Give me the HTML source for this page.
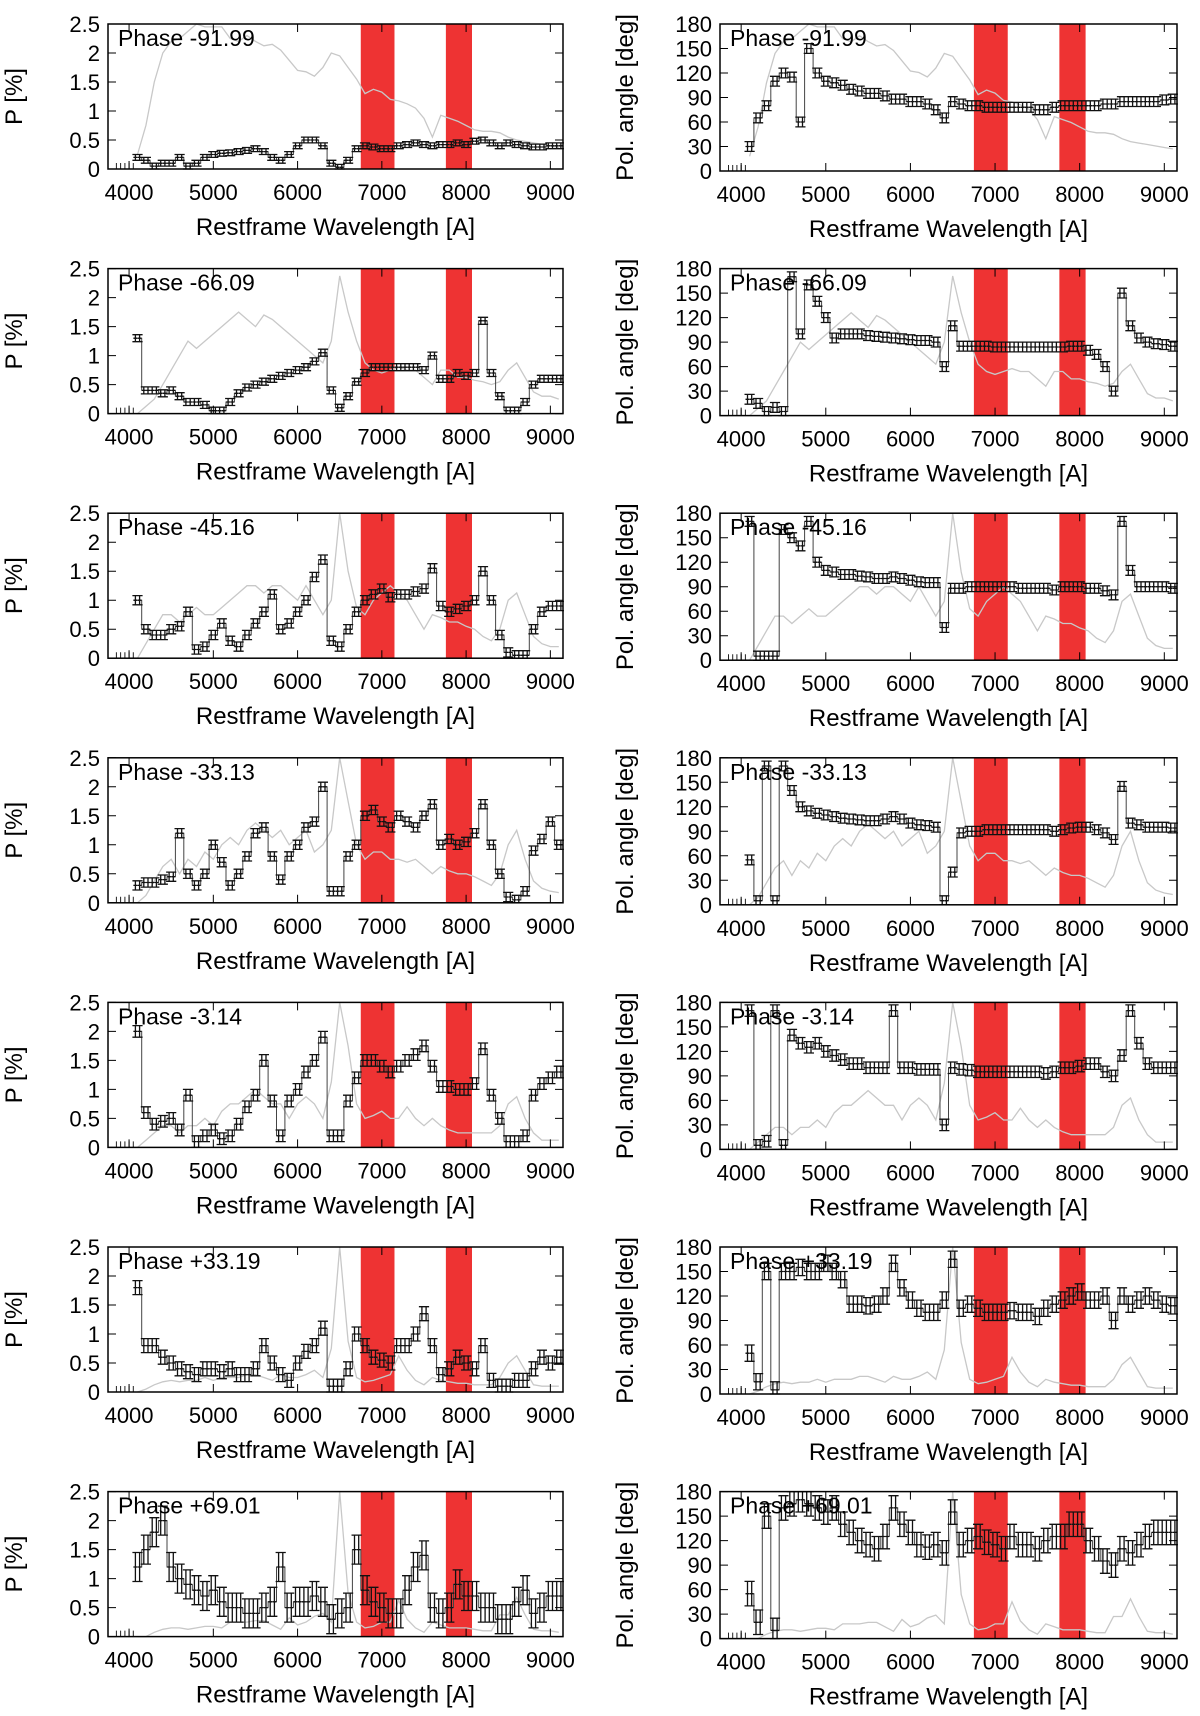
<!DOCTYPE html>
<html><head><meta charset="utf-8"><style>
html,body{margin:0;padding:0;background:#fff}
svg{display:block;font-family:"Liberation Sans",sans-serif}
</style></head><body>
<svg id="fig" width="1200" height="1716" viewBox="0 0 1200 1716" xmlns="http://www.w3.org/2000/svg"></svg>
<script>
const phases=["Phase -91.99","Phase -66.09","Phase -45.16","Phase -33.13","Phase -3.14","Phase +33.19","Phase +69.01"];
const wl0=4100, wlStep=100;
const pVals=[
[0.2,0.15,0.05,0.1,0.1,0.2,0.05,0.1,0.2,0.25,0.27,0.28,0.3,0.32,0.35,0.3,0.2,0.15,0.25,0.4,0.5,0.5,0.4,0.1,0.03,0.15,0.35,0.4,0.38,0.35,0.35,0.4,0.42,0.45,0.42,0.4,0.42,0.42,0.45,0.42,0.48,0.5,0.45,0.4,0.45,0.42,0.4,0.38,0.38,0.4,0.4],
[1.3,0.4,0.4,0.35,0.4,0.3,0.2,0.2,0.15,0.05,0.05,0.2,0.35,0.45,0.5,0.55,0.6,0.65,0.7,0.75,0.8,0.9,1.05,0.4,0.1,0.3,0.55,0.7,0.8,0.8,0.8,0.8,0.8,0.8,0.75,1.0,0.6,0.6,0.7,0.65,0.7,1.6,0.7,0.3,0.05,0.05,0.2,0.5,0.6,0.6,0.6],
[1.0,0.5,0.4,0.4,0.5,0.55,0.8,0.15,0.2,0.4,0.6,0.3,0.2,0.4,0.6,0.8,1.1,0.5,0.6,0.8,1.0,1.4,1.7,0.3,0.2,0.5,0.8,1.0,1.1,1.2,1.05,1.1,1.1,1.15,1.2,1.55,0.9,0.8,0.85,0.9,1.0,1.5,1.0,0.4,0.1,0.05,0.05,0.5,0.8,0.9,0.9],
[0.3,0.35,0.35,0.4,0.45,1.2,0.5,0.3,0.5,1.0,0.7,0.3,0.5,0.8,1.2,1.3,0.8,0.4,0.8,1.0,1.3,1.4,2.0,0.2,0.2,0.8,1.0,1.5,1.6,1.4,1.3,1.5,1.4,1.3,1.5,1.7,1.0,1.1,1.0,1.05,1.2,1.7,1.0,0.5,0.1,0.05,0.2,0.9,1.1,1.4,1.0],
[2.0,0.6,0.4,0.45,0.5,0.3,0.9,0.1,0.2,0.3,0.15,0.2,0.4,0.7,0.9,1.5,0.8,0.2,0.8,1.0,1.3,1.5,1.9,0.2,0.2,0.8,1.2,1.5,1.5,1.4,1.3,1.4,1.5,1.6,1.75,1.4,1.05,1.05,1.0,1.0,1.1,1.7,0.9,0.5,0.1,0.1,0.2,0.9,1.1,1.2,1.3],
[1.8,0.8,0.8,0.6,0.5,0.4,0.35,0.3,0.4,0.4,0.35,0.4,0.3,0.3,0.4,0.8,0.5,0.3,0.2,0.5,0.7,0.8,1.1,0.1,0.1,0.4,1.0,0.8,0.6,0.55,0.5,0.8,0.8,1.0,1.35,0.8,0.3,0.4,0.6,0.5,0.4,0.8,0.2,0.1,0.1,0.2,0.2,0.4,0.6,0.5,0.6],
[1.2,1.5,1.8,2.0,1.2,1.0,0.9,0.8,0.7,0.8,0.6,0.5,0.5,0.4,0.4,0.5,0.6,1.2,0.5,0.6,0.6,0.7,0.6,0.3,0.4,0.5,1.5,0.8,0.6,0.5,0.4,0.4,0.8,1.2,1.4,0.5,0.4,0.5,0.9,0.7,0.7,0.5,0.5,0.3,0.3,0.6,0.8,0.4,0.5,0.7,0.7]
];
const angVals=[
[30,65,80,110,120,115,60,150,120,110,108,105,100,98,95,95,92,88,88,85,85,82,75,65,85,82,80,80,78,78,78,78,78,78,75,75,78,80,80,80,80,80,82,82,85,85,85,85,85,87,88],
[20,15,5,10,5,170,100,160,140,120,95,100,100,100,98,97,96,95,94,93,92,92,90,60,110,85,85,85,85,84,84,84,84,84,84,84,84,84,85,85,80,75,60,30,150,110,95,90,88,87,85],
[170,5,5,5,160,150,140,170,120,110,108,105,105,103,102,100,100,102,100,98,96,95,95,40,88,88,90,90,90,90,90,90,88,88,88,88,86,90,90,90,88,88,85,80,170,110,90,90,90,90,88],
[55,5,170,5,170,140,120,115,112,110,108,106,105,104,103,103,105,108,105,100,98,97,95,5,40,88,90,90,92,92,92,92,92,92,92,92,90,92,94,95,95,92,88,80,145,100,98,95,95,95,94],
[170,5,10,170,5,140,130,125,130,120,115,110,105,105,100,100,100,170,100,100,98,98,98,30,100,98,97,95,95,95,95,95,95,95,95,93,95,100,100,102,105,105,95,90,115,170,130,105,100,100,100],
[50,15,150,5,150,150,155,150,150,160,150,140,110,110,108,110,120,160,130,115,105,100,100,115,165,105,110,105,100,100,100,102,100,100,95,105,110,115,120,125,115,115,120,90,120,110,115,120,115,110,108],
[55,20,150,10,160,165,170,165,160,155,160,140,130,120,115,110,125,160,140,130,115,112,115,105,155,115,120,125,118,115,110,125,115,115,110,120,125,125,140,140,120,110,95,90,110,105,115,125,130,130,130]
];
const fluxVals=[
[0.1,0.3,0.6,0.8,0.88,0.9,0.95,1.0,0.98,0.98,0.98,0.9,0.88,0.92,0.88,0.85,0.86,0.82,0.75,0.68,0.67,0.64,0.7,0.8,0.78,0.7,0.62,0.52,0.55,0.53,0.48,0.47,0.45,0.42,0.35,0.22,0.37,0.35,0.33,0.3,0.27,0.26,0.26,0.25,0.22,0.2,0.19,0.18,0.17,0.16,0.15],
[0,0.05,0.1,0.2,0.3,0.4,0.5,0.45,0.5,0.55,0.6,0.65,0.7,0.65,0.6,0.68,0.65,0.6,0.55,0.5,0.45,0.4,0.35,0.5,0.95,0.7,0.5,0.35,0.3,0.28,0.3,0.32,0.3,0.3,0.25,0.2,0.3,0.3,0.25,0.25,0.23,0.22,0.2,0.22,0.3,0.35,0.25,0.15,0.12,0.12,0.1],
[0,0.1,0.2,0.3,0.3,0.25,0.3,0.35,0.3,0.3,0.35,0.4,0.45,0.5,0.5,0.45,0.5,0.5,0.45,0.4,0.5,0.4,0.3,0.4,1.0,0.6,0.35,0.3,0.4,0.45,0.5,0.45,0.4,0.3,0.2,0.3,0.28,0.25,0.25,0.22,0.2,0.15,0.12,0.2,0.4,0.45,0.3,0.15,0.1,0.08,0.08],
[0,0.05,0.15,0.25,0.3,0.2,0.3,0.25,0.35,0.3,0.4,0.45,0.4,0.5,0.55,0.5,0.45,0.5,0.4,0.45,0.5,0.35,0.4,0.5,1.0,0.7,0.4,0.3,0.35,0.35,0.3,0.3,0.28,0.3,0.25,0.2,0.25,0.22,0.2,0.2,0.18,0.15,0.12,0.2,0.4,0.5,0.3,0.15,0.1,0.08,0.07],
[0,0.05,0.1,0.15,0.15,0.1,0.15,0.15,0.2,0.15,0.25,0.3,0.3,0.35,0.4,0.35,0.3,0.3,0.2,0.3,0.35,0.3,0.2,0.45,1.0,0.7,0.3,0.2,0.22,0.25,0.2,0.2,0.28,0.2,0.15,0.2,0.15,0.12,0.1,0.1,0.1,0.1,0.1,0.15,0.3,0.35,0.2,0.1,0.05,0.05,0.05],
[0,0.02,0.05,0.07,0.08,0.07,0.08,0.08,0.1,0.08,0.1,0.1,0.1,0.12,0.12,0.1,0.08,0.12,0.1,0.1,0.12,0.15,0.1,0.3,1.0,0.35,0.1,0.07,0.08,0.1,0.12,0.25,0.15,0.08,0.05,0.1,0.08,0.07,0.06,0.06,0.05,0.05,0.05,0.1,0.2,0.25,0.15,0.05,0.04,0.04,0.04],
[0,0,0.03,0.05,0.06,0.06,0.05,0.06,0.07,0.07,0.06,0.1,0.1,0.1,0.11,0.11,0.08,0.05,0.13,0.08,0.1,0.14,0.16,0.1,1.0,0.3,0.1,0.06,0.07,0.1,0.1,0.25,0.12,0.06,0.03,0.1,0.08,0.06,0.06,0.06,0.05,0.04,0.04,0.15,0.15,0.27,0.15,0.05,0.04,0.04,0.03]
];
const pErr=[0.05,0.06,0.08,0.08,0.1,0.12,0.25];
const aErr=[6,6,6,6,7,10,15];
const redBands=[[6750,7150],[7760,8070]];
const xTicks=[4000,5000,6000,7000,8000,9000];
const pTicks=[0,0.5,1,1.5,2,2.5];
const pTickLabels=["0","0.5","1","1.5","2","2.5"];
const aTicks=[0,30,60,90,120,150,180];

const NS="http://www.w3.org/2000/svg";
const svg=document.getElementById('fig');
function mk(tag,attrs,parent,text){const e=document.createElementNS(NS,tag);for(const k in attrs)e.setAttribute(k,attrs[k]);if(text!==undefined)e.textContent=text;(parent||svg).appendChild(e);return e;}
const XMIN=3750,XMAX=9150;
const rowStep=244.6, top0=24;

function panel(row,side){
  const left=side===0?108:720, right=side===0?563:1177;
  const top=top0+row*rowStep, h=side===0?145:147, bottom=top+h;
  const ymax=side===0?2.5:180;
  const sx=w=>left+(w-XMIN)/(XMAX-XMIN)*(right-left);
  const sy=v=>bottom-Math.max(0,Math.min(v,ymax))/ymax*h;
  const g=mk('g',{});
  
  
  redBands.forEach((b,i)=>{const r=mk('rect',{x:sx(b[0]),y:top,width:sx(b[1])-sx(b[0]),height:h,fill:'#ee3333'},g);
    });
  const fl=fluxVals[row];let d='';
  fl.forEach((f,i)=>{d+=(i?'L':'M')+sx(wl0+i*wlStep).toFixed(1)+','+sy(f*ymax).toFixed(1);});
  const fp=mk('path',{d:d,fill:'none',stroke:'#c8c8c8','stroke-width':1.3},g);
  
  const vals=side===0?pVals[row]:angVals[row];const err=side===0?pErr[row]:aErr[row];
  let sd='';
  vals.forEach((v,i)=>{const w=wl0+i*wlStep;sd+=(i?'L':'M')+sx(w-50).toFixed(1)+','+sy(v).toFixed(1)+'L'+sx(w+50).toFixed(1)+','+sy(v).toFixed(1);});
  const sp=mk('path',{d:sd,fill:'none',stroke:'#444','stroke-width':1},g);
  
  let ed='';
  vals.forEach((v,i)=>{const w=wl0+i*wlStep;
    for(const o of [-25,25]){const x=sx(w+o),y=sy(v),y1=sy(v-err),y2=sy(v+err),hw=sx(w+o+22)-x;
      ed+=`M${(x-hw).toFixed(1)},${y.toFixed(1)}H${(x+hw).toFixed(1)}M${x.toFixed(1)},${y1.toFixed(1)}V${y2.toFixed(1)}M${(x-3).toFixed(1)},${y1.toFixed(1)}h6M${(x-3).toFixed(1)},${y2.toFixed(1)}h6`;}
  });
  const ep=mk('path',{d:ed,fill:'none',stroke:'#111','stroke-width':1.3},g);
  
  let zd='';[3850,3900,3950,4000,4050].forEach(w=>{zd+=`M${sx(w).toFixed(1)},${bottom}v-6`;});
  mk('path',{d:zd,stroke:'#222','stroke-width':1},g);
  const fr=mk('rect',{x:left,y:top,width:right-left,height:h,fill:'none',stroke:'#000','stroke-width':1.5},g);
  
  xTicks.forEach(t=>{const x=sx(t);
    mk('path',{d:`M${x},${bottom}v-8M${x},${top}v8`,stroke:'#000','stroke-width':1},g);
    const tl=mk('text',{x:x,y:bottom+31,'font-size':22,'text-anchor':'middle'},g,String(t));
    });
  const ticks=side===0?pTicks:aTicks;
  ticks.forEach((t,i)=>{const y=sy(t);
    mk('path',{d:`M${left},${y}h8M${right},${y}h-8`,stroke:'#000','stroke-width':1},g);
    const tl=mk('text',{x:left-8,y:y+8,'font-size':22,'text-anchor':'end'},g,side===0?pTickLabels[i]:String(t));
    });
  const xl=mk('text',{x:(left+right)/2,y:bottom+66,'font-size':24,'text-anchor':'middle'},g,'Restframe Wavelength [A]');
  
  const yx=side===0?22:633;
  const yl=mk('text',{x:yx,y:(top+bottom)/2,'font-size':24,'text-anchor':'middle',transform:`rotate(-90 ${yx} ${(top+bottom)/2})`},g,side===0?'P [%]':'Pol. angle [deg]');
  
  const pl=mk('text',{x:left+10,y:top+22,'font-size':23},g,phases[row]);
  
}
for(let r=0;r<7;r++){panel(r,0);panel(r,1);}
</script>
</body></html>
